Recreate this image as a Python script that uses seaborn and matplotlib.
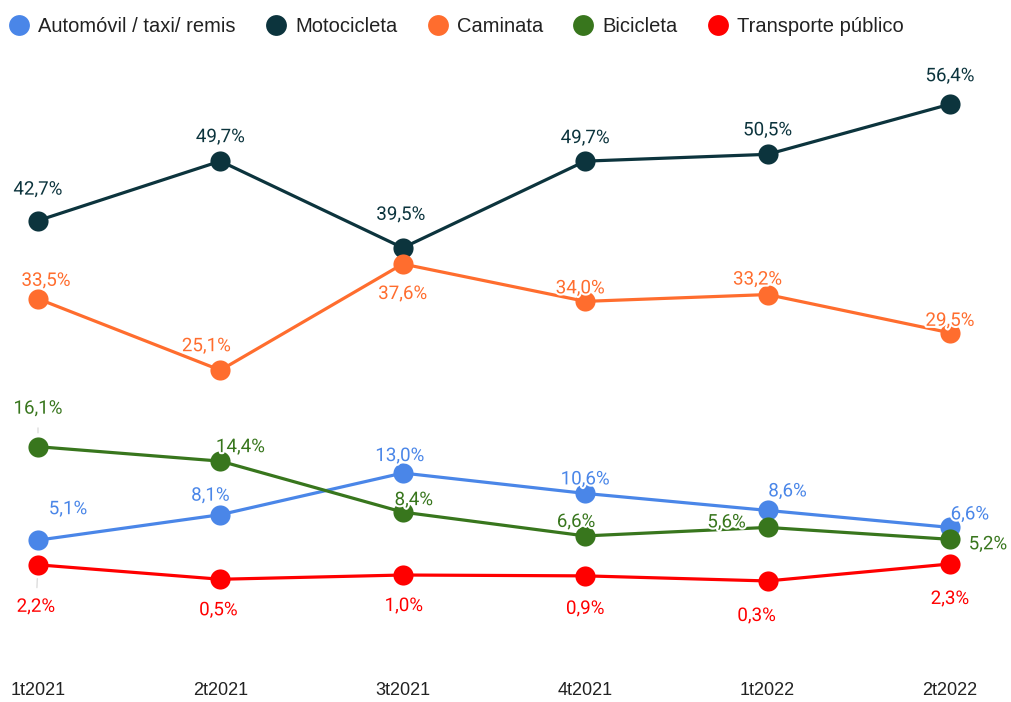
import matplotlib.pyplot as plt
import matplotlib.patheffects as pe
import pandas as pd
import seaborn as sns

# periods and series values (%), read from the point heights
periodos = ["1t2021", "2t2021", "3t2021", "4t2021", "1t2022", "2t2022"]
series = ["Automóvil / taxi/ remis", "Motocicleta", "Caminata", "Bicicleta", "Transporte público"]
automovil = [5.1, 8.1, 13.0, 10.6, 8.6, 6.6]
motocicleta = [42.7, 49.7, 39.5, 49.7, 50.5, 56.4]
caminata = [33.5, 25.1, 37.6, 33.2, 34.0, 29.5]
bicicleta = [16.1, 14.4, 8.4, 5.6, 6.6, 5.2]
transporte = [2.2, 0.5, 1.0, 0.9, 0.3, 2.3]

# data labels as printed on the chart
etq_automovil = ["5,1%", "8,1%", "13,0%", "10,6%", "8,6%", "6,6%"]
etq_motocicleta = ["42,7%", "49,7%", "39,5%", "49,7%", "50,5%", "56,4%"]
etq_caminata = ["33,5%", "25,1%", "37,6%", "34,0%", "33,2%", "29,5%"]
etq_bicicleta = ["16,1%", "14,4%", "8,4%", "6,6%", "5,6%", "5,2%"]
etq_transporte = ["2,2%", "0,5%", "1,0%", "0,9%", "0,3%", "2,3%"]

colores = ["#4a86e8", "#0c343d", "#ff6d2e", "#38761d", "#ff0000"]

# label offsets in pixels (dx, dy) relative to each point
offsets = {
    "Automóvil / taxi/ remis": [(30, 31), (-10, 19), (-3, 17), (0, 14), (20, 19), (20, 13)],
    "Motocicleta": [(0, 31), (0, 24), (-2, 33), (0, 23), (0, 24), (0, 28)],
    "Caminata": [(8, 18), (-14, 24), (0, -30), (-5, 13), (-10, 15), (0, 12)],
    "Bicicleta": [(0, 38), (20, 14), (11, 12), (-9, 14), (-41, 5), (38, -5)],
    "Transporte público": [(-2, -42), (-2, -31), (1, -31), (0, -33), (-11, -35), (0, -35)],
}
leaders = {("Bicicleta", 0), ("Transporte público", 0)}

valores = [automovil, motocicleta, caminata, bicicleta, transporte]
etiquetas = [etq_automovil, etq_motocicleta, etq_caminata, etq_bicicleta, etq_transporte]
filas = []
for nombre, vals in zip(series, valores):
    for i, v in enumerate(vals):
        filas.append({"x": i, "valor": v, "serie": nombre})
df = pd.DataFrame(filas)

sns.set_theme(style="white")
plt.rcParams["font.family"] = ["Roboto", "DejaVu Sans"]

fig = plt.figure(figsize=(10.11, 7.02), dpi=100)
ax = fig.add_axes([38 / 1011, 42 / 702, 912 / 1011, 600 / 702])

sns.lineplot(data=df, x="x", y="valor", hue="serie", hue_order=series,
             palette=colores, marker="o", markersize=14.5, markeredgewidth=0,
             linewidth=2.3, ax=ax, legend=False, clip_on=False)

halo = [pe.withStroke(linewidth=3, foreground="white")]
for nombre, vals, textos, color in zip(series, valores, etiquetas, colores):
    for i, v in enumerate(vals):
        dx, dy = offsets[nombre][i]
        kw = {}
        if (nombre, i) in leaders:
            kw["arrowprops"] = dict(arrowstyle="-", color="#dddddd", lw=1,
                                    shrinkA=5, shrinkB=10)
        ax.annotate(textos[i], xy=(i, v), xytext=(dx, dy), textcoords="offset pixels",
                    ha="center", va="center", fontsize=13.5, color=color,
                    path_effects=halo, annotation_clip=False, zorder=5, **kw)

ax.set_xlim(0, 5)
ax.set_ylim(-9.0, 61.6)
ax.set_xticks(range(len(periodos)))
ax.set_xticklabels(periodos, fontsize=13, color="#222222",
                   family=["Liberation Sans Narrow", "Liberation Sans"])
ax.tick_params(axis="x", length=0, pad=16)
ax.set_yticks([])
ax.set_xlabel("")
ax.set_ylabel("")
for s in ax.spines.values():
    s.set_visible(False)

handles = [plt.Line2D([], [], marker="o", linestyle="", markersize=15,
                      markerfacecolor=c, markeredgewidth=0) for c in colores]
fig.legend(handles, series, loc="upper left", bbox_to_anchor=(-0.004, 0.994),
           ncol=5, frameon=False, handletextpad=0.45,
           columnspacing=1.5, handlelength=1.0, borderaxespad=0.25,
           labelcolor="#222222",
           prop={"family": ["Liberation Sans", "DejaVu Sans"], "size": 14.5})

fig.savefig("out.png", dpi=100)
